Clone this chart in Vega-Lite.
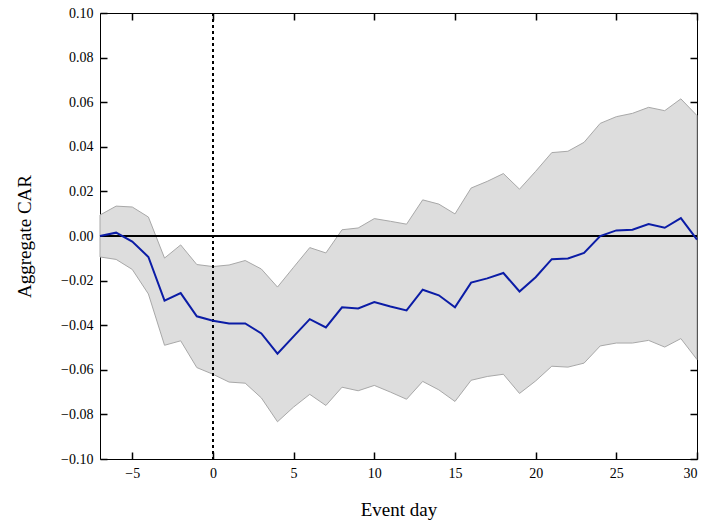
{
  "$schema": "https://vega.github.io/schema/vega-lite/v6.json",
  "width": 597,
  "height": 446,
  "autosize": {"type": "none"},
  "padding": {"left": 100, "top": 13, "right": 7, "bottom": 64},
  "background": "white",
  "config": {
    "view": {"stroke": "black", "strokeWidth": 1},
    "axis": {
      "domain": false,
      "ticks": true,
      "tickColor": "black",
      "tickOpacity": 1,
      "tickWidth": 1.5,
      "grid": false,
      "labelFont": "Liberation Serif",
      "titleFont": "Liberation Serif",
      "labelFontSize": 14,
      "titleFontSize": 19,
      "titleFontWeight": "normal",
      "labelColor": "black",
      "titleColor": "black",
      "tickSize": 7,
      "offset": -7,
      "labelPadding": 7,
      "zindex": 1
    }
  },
  "data": {
    "values": [
      {"day": -7, "car": 0.0000, "lo": -0.0094, "hi": 0.0094},
      {"day": -6, "car": 0.0015, "lo": -0.0105, "hi": 0.0134},
      {"day": -5, "car": -0.0025, "lo": -0.0150, "hi": 0.0130},
      {"day": -4, "car": -0.0094, "lo": -0.0260, "hi": 0.0085},
      {"day": -3, "car": -0.0290, "lo": -0.0490, "hi": -0.0099},
      {"day": -2, "car": -0.0256, "lo": -0.0470, "hi": -0.0040},
      {"day": -1, "car": -0.0360, "lo": -0.0590, "hi": -0.0128},
      {"day": 0, "car": -0.0380, "lo": -0.0620, "hi": -0.0137},
      {"day": 1, "car": -0.0392, "lo": -0.0655, "hi": -0.0130},
      {"day": 2, "car": -0.0392, "lo": -0.0660, "hi": -0.0110},
      {"day": 3, "car": -0.0437, "lo": -0.0726, "hi": -0.0148},
      {"day": 4, "car": -0.0528, "lo": -0.0833, "hi": -0.0229},
      {"day": 5, "car": -0.0450, "lo": -0.0767, "hi": -0.0140},
      {"day": 6, "car": -0.0373, "lo": -0.0710, "hi": -0.0052},
      {"day": 7, "car": -0.0410, "lo": -0.0760, "hi": -0.0076},
      {"day": 8, "car": -0.0320, "lo": -0.0678, "hi": 0.0028},
      {"day": 9, "car": -0.0325, "lo": -0.0694, "hi": 0.0036},
      {"day": 10, "car": -0.0296, "lo": -0.0670, "hi": 0.0078},
      {"day": 11, "car": -0.0316, "lo": -0.0700, "hi": 0.0066},
      {"day": 12, "car": -0.0334, "lo": -0.0732, "hi": 0.0053},
      {"day": 13, "car": -0.0241, "lo": -0.0652, "hi": 0.0162},
      {"day": 14, "car": -0.0266, "lo": -0.0690, "hi": 0.0143},
      {"day": 15, "car": -0.0320, "lo": -0.0742, "hi": 0.0099},
      {"day": 16, "car": -0.0209, "lo": -0.0647, "hi": 0.0215},
      {"day": 17, "car": -0.0190, "lo": -0.0630, "hi": 0.0245},
      {"day": 18, "car": -0.0166, "lo": -0.0620, "hi": 0.0280},
      {"day": 19, "car": -0.0249, "lo": -0.0706, "hi": 0.0210},
      {"day": 20, "car": -0.0185, "lo": -0.0650, "hi": 0.0290},
      {"day": 21, "car": -0.0104, "lo": -0.0584, "hi": 0.0374},
      {"day": 22, "car": -0.0101, "lo": -0.0588, "hi": 0.0380},
      {"day": 23, "car": -0.0076, "lo": -0.0570, "hi": 0.0420},
      {"day": 24, "car": 0.0000, "lo": -0.0493, "hi": 0.0505},
      {"day": 25, "car": 0.0025, "lo": -0.0480, "hi": 0.0535},
      {"day": 26, "car": 0.0028, "lo": -0.0480, "hi": 0.0550},
      {"day": 27, "car": 0.0054, "lo": -0.0468, "hi": 0.0577},
      {"day": 28, "car": 0.0037, "lo": -0.0498, "hi": 0.0562},
      {"day": 29, "car": 0.0080, "lo": -0.0460, "hi": 0.0615},
      {"day": 30, "car": -0.0016, "lo": -0.0554, "hi": 0.0540}
    ]
  },
  "layer": [
    {
      "mark": {"type": "area", "color": "#dddddd", "stroke": "#a8a8a8", "strokeWidth": 1},
      "encoding": {
        "x": {"field": "day", "type": "quantitative",
              "scale": {"domain": [-7, 30], "nice": false, "zero": false},
              "axis": {"orient": "bottom", "title": "Event day", "values": [-5, 0, 5, 10, 15, 20, 25, 30], "titlePadding": 20}},
        "y": {"field": "lo", "type": "quantitative",
              "scale": {"domain": [-0.1, 0.1], "nice": false, "zero": false},
              "axis": {"orient": "left", "title": "Aggregate CAR", "format": ".2f", "values": [-0.1, -0.08, -0.06, -0.04, -0.02, 0, 0.02, 0.04, 0.06, 0.08, 0.1], "titlePadding": 26}},
        "y2": {"field": "hi"}
      }
    },
    {
      "mark": {"type": "rule", "color": "black", "strokeWidth": 1},
      "encoding": {"y": {"datum": 0, "type": "quantitative", "axis": null}}
    },
    {
      "mark": {"type": "rule", "color": "black", "strokeWidth": 1, "strokeDash": [3, 3]},
      "encoding": {"x": {"datum": 0, "type": "quantitative", "axis": null}}
    },
    {
      "mark": {"type": "line", "color": "#0b1ca6", "strokeWidth": 2},
      "encoding": {
        "x": {"field": "day", "type": "quantitative", "axis": null},
        "y": {"field": "car", "type": "quantitative", "axis": null}
      }
    },
    {
      "mark": {"type": "line", "opacity": 0},
      "encoding": {
        "x": {"field": "day", "type": "quantitative",
              "axis": {"orient": "top", "labels": false, "title": null, "values": [-5, 0, 5, 10, 15, 20, 25, 30]}},
        "y": {"field": "car", "type": "quantitative",
              "axis": {"orient": "right", "labels": false, "title": null, "values": [-0.1, -0.08, -0.06, -0.04, -0.02, 0, 0.02, 0.04, 0.06, 0.08, 0.1]}}
      }
    }
  ],
  "resolve": {"axis": {"x": "independent", "y": "independent"}}
}
